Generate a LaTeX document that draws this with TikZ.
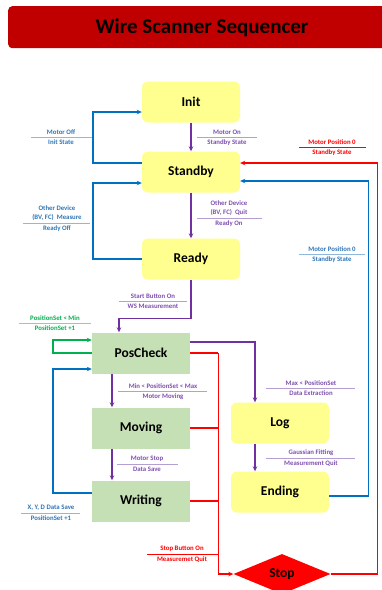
\documentclass[tikz,border=0pt]{standalone}
\usepackage{fontspec}
\setmainfont{Carlito}
\usetikzlibrary{arrows.meta,shapes.geometric}

\definecolor{titlered}{HTML}{C00000}
\definecolor{stateyel}{HTML}{FFFF8F}
\definecolor{actgreen}{HTML}{C5E0B4}
\definecolor{wsblue}{HTML}{0070C0}
\definecolor{wsbluetext}{HTML}{2E75B6}
\definecolor{wsbluerule}{HTML}{8FB8DE}
\definecolor{wspurple}{HTML}{7030A0}
\definecolor{wspurpletext}{HTML}{7F4FB0}
\definecolor{wspurplerule}{HTML}{B49FD3}
\definecolor{wsgreen}{HTML}{00B050}
\definecolor{wsgreenrule}{HTML}{7FD8A7}
\definecolor{wsred}{HTML}{FF0000}

\tikzset{
    state/.style={rounded corners=6pt, fill=stateyel, minimum width=98pt, minimum height=41pt,
        font=\fontsize{13.5}{16}\selectfont\bfseries},
    action/.style={fill=actgreen, minimum width=98pt, minimum height=41pt,
        font=\fontsize{13.5}{16}\selectfont\bfseries},
    cond/.style={font=\fontsize{6.8}{8.8}\selectfont\bfseries, inner sep=2.4pt, align=center},
    flow/.style={line width=1.4pt, -{Stealth[length=5pt,width=4.5pt]}},
    bus/.style={line width=1.4pt},
    sep/.style={line width=0.7pt},
}

\begin{document}
\begin{tikzpicture}[x=1pt,y=-1pt]
    \useasboundingbox (0,0) rectangle (382,590);
    % title
    \node [fill=titlered, rounded corners=4pt, minimum width=387pt, minimum height=42pt, anchor=north west] (titlebar) at (8,6) {};
    \node [font=\fontsize{21}{24}\selectfont\bfseries] (title) at (202,28) {Wire Scanner Sequencer};
    % states
    \node [state] (init) at (191,102) {Init};
    \node [state] (standby) at (191,172) {Standby};
    \node [state] (ready) at (191,259) {Ready};
    \node [action] (poscheck) at (141,353) {PosCheck};
    \node [action] (moving) at (141,428) {Moving};
    \node [action] (writing) at (141,501) {Writing};
    \node [state] (log) at (280,423) {Log};
    \node [state] (ending) at (280,492) {Ending};
    \node [diamond, fill=wsred, aspect=2.4, minimum width=97pt, minimum height=40pt, inner sep=0pt,
        font=\fontsize{13.5}{16}\selectfont\bfseries] (stop) at (282,574) {Stop};
    % transitions
    \draw [flow, wspurple] (init) -- (standby);
    \draw [flow, wsblue] ([yshift=9pt]standby.west) -- ++(-49,0) |- ([yshift=-10pt]init.west);
    \draw [flow, wspurple] (standby) -- (ready);
    \draw [flow, wsblue] (ready.west) -- ++(-49,0) |- ([yshift=-11pt]standby.west);
    \draw [flow, wspurple] (ready.south) -- ++(0,39) -| ([xshift=-22pt]poscheck.north);
    \draw [flow, wsgreen] (poscheck.west) -- ++(-39,0) |- ([yshift=13pt]poscheck.west);
    \draw [flow, wsblue] ([yshift=8pt]writing.west) -- ++(-39,0) |- ([yshift=-16pt]poscheck.west);
    \draw [flow, wspurple] ([xshift=-29pt]poscheck.south) -- ([xshift=-29pt]moving.north);
    \draw [flow, wspurple] ([xshift=-29pt]moving.south) -- ([xshift=-29pt]writing.north);
    \draw [flow, wspurple] ([yshift=11pt]poscheck.east) -| ([xshift=-25pt]log.north);
    \draw [flow, wspurple] ([xshift=-25pt]log.south) -- ([xshift=-25pt]ending.north);
    \draw [flow, wsblue] ([yshift=-4pt]ending.east) -- ++(39,0) |- ([yshift=-9pt]standby.east);
    % stop bus
    \draw [bus, wsred] (poscheck.east) -- ++(28,0) coordinate (stopbus);
    \draw [bus, wsred] (moving.east) -- (stopbus |- moving.east);
    \draw [bus, wsred] (writing.east) -- (stopbus |- writing.east);
    \draw [flow, wsred] (stopbus) |- (stop.west);
    \draw [flow, wsred] (stop.east) -- ++(47,0) |- ([yshift=9pt]standby.east);
    % conditions
    \node [cond, above, text=wsbluetext] (offA) at (61,137) {Motor Off};
    \node [cond, below, text=wsbluetext] (offB) at (61,137) {Init State};
    \draw [sep, wsbluerule] (31,137) -- (92,137);
    \node [cond, above, text=wspurpletext] (onA) at (227,137) {Motor On};
    \node [cond, below, text=wspurpletext] (onB) at (227,137) {Standby State};
    \draw [sep, wspurplerule] (197,137) -- (257,137);
    \node [cond, above, text=wspurpletext] (quitA) at (229,218) {Other Device\\(BV, FC)\ \ Quit};
    \node [cond, below, text=wspurpletext] (quitB) at (229,218) {Ready On};
    \draw [sep, wspurplerule] (197,218) -- (262,218);
    \node [cond, above, text=wsbluetext] (measA) at (57,223) {Other Device\\(BV, FC)\ \ Measure};
    \node [cond, below, text=wsbluetext] (measB) at (57,223) {Ready Off};
    \draw [sep, wsbluerule] (23,223) -- (90,223);
    \node [cond, above, text=wspurpletext] (startA) at (153,301) {Start Button On};
    \node [cond, below, text=wspurpletext] (startB) at (153,301) {WS Measurement};
    \draw [sep, wspurplerule] (119,301) -- (187,301);
    \node [cond, above, text=wsgreen] (minA) at (55,323) {PositionSet < Min};
    \node [cond, below, text=wsgreen] (minB) at (55,323) {PositionSet +1};
    \draw [sep, wsgreenrule] (19,323) -- (91,323);
    \node [cond, above, text=wspurpletext] (moveA) at (163,391) {Min < PositionSet < Max};
    \node [cond, below, text=wspurpletext] (moveB) at (163,391) {Motor Moving};
    \draw [sep, wspurplerule] (118,391) -- (207,391);
    \node [cond, above, text=wspurpletext] (saveA) at (147,464) {Motor Stop};
    \node [cond, below, text=wspurpletext] (saveB) at (147,464) {Data Save};
    \draw [sep, wspurplerule] (117,464) -- (178,464);
    \node [cond, above, text=wsbluetext] (xydA) at (51,513) {X, Y, D Data Save};
    \node [cond, below, text=wsbluetext] (xydB) at (51,513) {PositionSet +1};
    \draw [sep, wsbluerule] (21,513) -- (80,513);
    \node [cond, above, text=wspurpletext] (maxA) at (311,388) {Max < PositionSet};
    \node [cond, below, text=wspurpletext] (maxB) at (311,388) {Data Extraction};
    \draw [sep, wspurplerule] (266,388) -- (355,388);
    \node [cond, above, text=wspurpletext] (fitA) at (311,458) {Gaussian Fitting};
    \node [cond, below, text=wspurpletext] (fitB) at (311,458) {Measurement Quit};
    \draw [sep, wspurplerule] (266,458) -- (355,458);
    \node [cond, above, text=wsbluetext] (homeA) at (332,254) {Motor Position 0};
    \node [cond, below, text=wsbluetext] (homeB) at (332,254) {Standby State};
    \draw [sep, wsbluerule] (299,254) -- (365,254);
    \node [cond, above, text=wsred] (btnA) at (182,554) {Stop Button On};
    \node [cond, below, text=wsred] (btnB) at (182,554) {Measuremet Quit};
    \draw [sep, wsred] (147,554) -- (218,554);
    \node [cond, above, text=wsred] (rhomeA) at (332,147) {Motor Position 0};
    \node [cond, below, text=wsred] (rhomeB) at (332,147) {Standby State};
    \draw [sep, wsred] (299,147) -- (366,147);
\end{tikzpicture}
\end{document}
